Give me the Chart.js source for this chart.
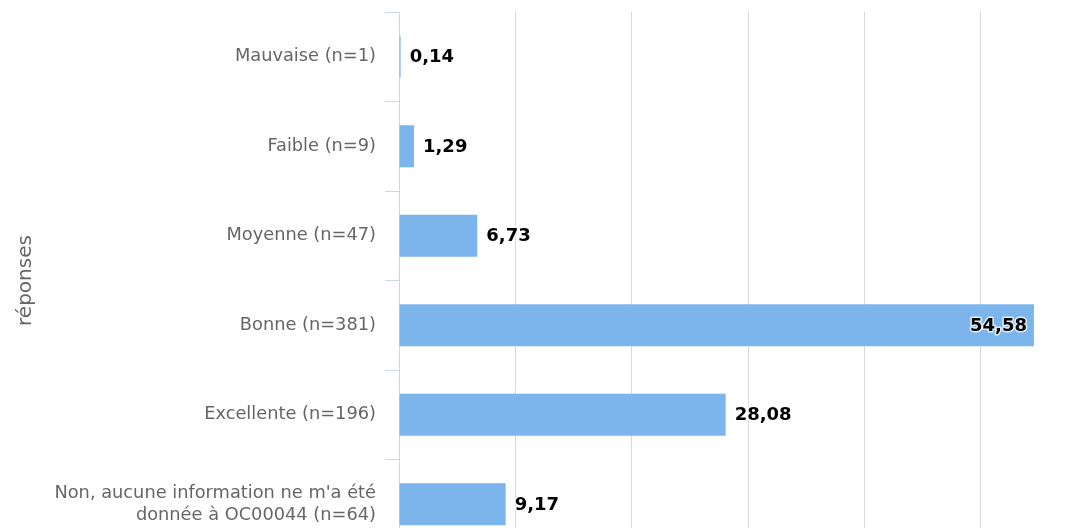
<!DOCTYPE html>
<html>
<head>
<meta charset="utf-8">
<script src="https://cdn.jsdelivr.net/npm/chart.js@4"></script>
<style>
    html, body { margin: 0; padding: 0; background: #fff; overflow: hidden; }
    canvas { display: block; }
</style>
</head>
<body>
<canvas id="chart" width="1110" height="600"></canvas>
<script>
const categories = [
    "Mauvaise (n=1)",
    "Faible (n=9)",
    "Moyenne (n=47)",
    "Bonne (n=381)",
    "Excellente (n=196)",
    ["Non, aucune information ne m'a été", "donnée à OC00044 (n=64)"],
];
const values = [0.14, 1.29, 6.73, 54.58, 28.08, 9.17];
const axistitle = "réponses";

const ctx = document.getElementById("chart").getContext("2d");

// labels at the end of each bar, inside when they would not fit
const barlabels = {
    id: "barlabels",
    afterDatasetsDraw(chart) {
        const c = chart.ctx;
        const meta = chart.getDatasetMeta(0);
        const area = chart.chartArea;
        c.save();
        c.font = "bold 18px 'DejaVu Sans', sans-serif";
        c.textBaseline = "middle";
        c.lineJoin = "round";
        meta.data.forEach((bar, i) => {
            const text = values[i].toFixed(2).replace(".", ",");
            const w = c.measureText(text).width;
            let x = bar.x + 9;
            if (x + w > area.right - 20) x = bar.x - 7 - w;
            c.strokeStyle = "rgba(255, 255, 255, 0.75)";
            c.lineWidth = 3;
            c.strokeText(text, x, bar.y + 1);
            c.fillStyle = "#000";
            c.fillText(text, x, bar.y + 1);
        });
        c.restore();
    },
};

new Chart(ctx, {
    type: "bar",
    data: {
        labels: categories,
        datasets: [
            {
                data: values,
                backgroundColor: "#7cb5ec",
                borderWidth: 0,
                barPercentage: 1,
                categoryPercentage: 0.47,
            },
        ],
    },
    options: {
        indexAxis: "y",
        responsive: false,
        animation: false,
        devicePixelRatio: 1,
        layout: { padding: { top: 12, right: 13, left: 0, bottom: 0 } },
        plugins: {
            legend: { display: false },
            tooltip: { enabled: false },
        },
        scales: {
            x: {
                min: 0,
                max: 60,
                ticks: { display: false, stepSize: 10 },
                border: { display: false },
                grid: {
                    color: (c) => (c.tick && c.tick.value === 0 ? "rgba(0,0,0,0)" : "#d9d9d9"),
                    lineWidth: 1,
                    drawTicks: false,
                },
                afterFit: (scale) => {
                    scale.height = 51;
                    scale.paddingLeft = 0;
                    scale.paddingRight = 0;
                },
            },
            y: {
                offset: true,
                border: { display: true, color: "#ccd6eb", width: 1 },
                grid: {
                    drawOnChartArea: false,
                    color: "#ccd6eb",
                    tickLength: 14,
                    offset: true,
                },
                ticks: {
                    color: "#666666",
                    padding: 9,
                    font: { family: "'DejaVu Sans', sans-serif", size: 17.8, lineHeight: 1.2 },
                },
                title: {
                    display: true,
                    text: axistitle,
                    color: "#666666",
                    padding: { top: 14, bottom: 0 },
                    font: { family: "'DejaVu Sans', sans-serif", size: 20 },
                },
                afterFit: (scale) => {
                    scale.width = 399;
                    scale.paddingTop = 0;
                    scale.paddingBottom = 0;
                },
            },
        },
    },
    plugins: [barlabels],
});
</script>
</body>
</html>
